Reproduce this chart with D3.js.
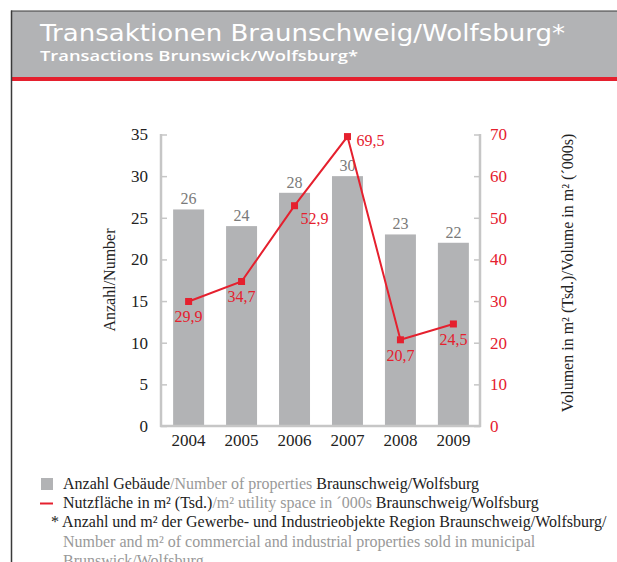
<!DOCTYPE html>
<html>
<head>
<meta charset="utf-8">
<script src="https://cdn.jsdelivr.net/npm/d3@7"></script>
<style>
  html, body { margin: 0; padding: 0; background: #fff; }
  svg { display: block; }
</style>
</head>
<body>
<div id="graph"></div>
<script>
// chart values
var years = ["2004", "2005", "2006", "2007", "2008", "2009"];
var anzahl = [26, 24, 28, 30, 23, 22];
var volumen = [29.9, 34.7, 52.9, 69.5, 20.7, 24.5];
var leftTicks = [0, 5, 10, 15, 20, 25, 30, 35];
var rightTicks = [0, 10, 20, 30, 40, 50, 60, 70];
// where the red value label sits relative to its point: [dx, dy, anchor]
var volLabelPos = [[0, 21, "middle"], [0, 21, "middle"], [6, 18, "start"],
                   [9, 9, "start"], [0, 21, "middle"], [0, 21, "middle"]];

var GREY = "#b2b3b5", RED = "#e5202e", AXIS = "#c6c6c6";
var SERIF = "'Liberation Serif', 'DejaVu Serif', serif";

function draw_function() {
    var vis = d3.select("#graph")
        .append("svg")
        .attr("width", 617).attr("height", 562);

    // frame + header
    vis.append("rect").attr("x", 12).attr("y", 11).attr("width", 620).attr("height", 66)
        .attr("fill", GREY);
    vis.append("rect").attr("x", 12).attr("y", 77).attr("width", 620).attr("height", 4)
        .attr("fill", RED);
    vis.append("line").attr("x1", 11.5).attr("x2", 11.5).attr("y1", 10.5).attr("y2", 562)
        .attr("stroke", "#3a3a3a").attr("stroke-width", 1.5);
    vis.append("line").attr("x1", 11).attr("x2", 617).attr("y1", 11).attr("y2", 11)
        .attr("stroke", "#3a3a3a").attr("stroke-width", 1);

    vis.append("text").attr("x", 40).attr("y", 41)
        .attr("fill", "#fff").attr("font-family", "'DejaVu Sans', sans-serif")
        .attr("font-size", 23).attr("textLength", 525).attr("lengthAdjust", "spacingAndGlyphs")
        .text("Transaktionen Braunschweig/Wolfsburg*");
    vis.append("text").attr("x", 40).attr("y", 61)
        .attr("fill", "#fff").attr("font-family", "'Open Sans', sans-serif")
        .attr("font-size", 14.5).attr("font-weight", 600)
        .attr("textLength", 318).attr("lengthAdjust", "spacingAndGlyphs")
        .text("Transactions Brunswick/Wolfsburg*");

    // scales
    var x = d3.scaleBand().domain(years).range([162, 480]).paddingInner(0.415).paddingOuter(0.21);
    var yL = d3.scaleLinear().domain([0, 35]).range([426, 134.5]);
    var yR = d3.scaleLinear().domain([0, 70]).range([426, 134.5]);

    // bars
    vis.selectAll("rect.bar")
        .data(anzahl)
        .enter()
        .append("rect")
        .attr("class", "bar")
        .attr("x", function(d, i) { return x(years[i]); })
        .attr("y", function(d) { return yL(d); })
        .attr("width", x.bandwidth())
        .attr("height", function(d) { return yL(0) - yL(d); })
        .attr("fill", GREY);

    vis.selectAll("text.barval")
        .data(anzahl)
        .enter()
        .append("text")
        .attr("x", function(d, i) { return x(years[i]) + x.bandwidth() / 2; })
        .attr("y", function(d) { return yL(d) - 5; })
        .attr("text-anchor", "middle")
        .attr("font-family", SERIF).attr("font-size", 16).attr("fill", "#7a7a7a")
        .text(function(d) { return d; });

    // axes
    var axL = vis.append("g").attr("transform", "translate(161,0)")
        .call(d3.axisLeft(yL).tickValues(leftTicks).tickSize(-6).tickPadding(13));
    var axR = vis.append("g").attr("transform", "translate(480,0)")
        .call(d3.axisRight(yR).tickValues(rightTicks).tickSize(-6).tickPadding(10));
    [axL, axR].forEach(function(ax) {
        ax.select(".domain").remove();
        ax.selectAll(".tick line").attr("stroke", AXIS).attr("stroke-width", 1.5);
        ax.selectAll("text").attr("font-family", SERIF).attr("font-size", 17);
    });
    axL.selectAll("text").attr("fill", "#222");
    axR.selectAll("text").attr("fill", RED);

    vis.append("line").attr("x1", 161).attr("x2", 161).attr("y1", 134).attr("y2", 427)
        .attr("stroke", AXIS).attr("stroke-width", 2.5);
    vis.append("line").attr("x1", 480).attr("x2", 480).attr("y1", 134).attr("y2", 427)
        .attr("stroke", AXIS).attr("stroke-width", 2.5);
    vis.append("line").attr("x1", 160).attr("x2", 481).attr("y1", 426).attr("y2", 426)
        .attr("stroke", AXIS).attr("stroke-width", 2.5);

    var axB = vis.append("g").attr("transform", "translate(0,427)")
        .call(d3.axisBottom(x).tickSize(0).tickPadding(7));
    axB.select(".domain").remove();
    axB.selectAll("text").attr("font-family", SERIF).attr("font-size", 17).attr("fill", "#222");

    // axis titles
    vis.append("text").attr("transform", "translate(115,280) rotate(-90)")
        .attr("text-anchor", "middle").attr("font-family", SERIF).attr("font-size", 16)
        .attr("fill", "#222").text("Anzahl/Number");
    vis.append("text").attr("transform", "translate(573,273) rotate(-90)")
        .attr("text-anchor", "middle").attr("font-family", SERIF).attr("font-size", 16)
        .attr("fill", "#222").text("Volumen in m² (Tsd.)/Volume in m² (´000s)");

    // line
    var cx = function(d, i) { return x(years[i]) + x.bandwidth() / 2; };
    var line = d3.line().x(cx).y(function(d) { return yR(d); });
    vis.append("path").datum(volumen).attr("d", line)
        .attr("fill", "none").attr("stroke", RED).attr("stroke-width", 2);
    vis.selectAll("rect.pt")
        .data(volumen)
        .enter()
        .append("rect")
        .attr("x", function(d, i) { return cx(d, i) - 3.5; })
        .attr("y", function(d) { return yR(d) - 3.5; })
        .attr("width", 7).attr("height", 7)
        .attr("fill", RED);
    vis.selectAll("text.volval")
        .data(volumen)
        .enter()
        .append("text")
        .attr("x", function(d, i) { return cx(d, i) + volLabelPos[i][0]; })
        .attr("y", function(d, i) { return yR(d) + volLabelPos[i][1]; })
        .attr("text-anchor", function(d, i) { return volLabelPos[i][2]; })
        .attr("font-family", SERIF).attr("font-size", 16).attr("fill", RED)
        .text(function(d) { return String(d).replace(".", ","); });

    // legend
    vis.append("rect").attr("x", 41).attr("y", 478).attr("width", 12).attr("height", 12)
        .attr("fill", GREY);
    vis.append("line").attr("x1", 40).attr("x2", 53).attr("y1", 503.5).attr("y2", 503.5)
        .attr("stroke", RED).attr("stroke-width", 2);

    var legend = [
        [63, 488.5, [["Anzahl Gebäude", "#222"], ["/Number of properties ", "#999"], ["Braunschweig/Wolfsburg", "#222"]]],
        [63, 508, [["Nutzfläche in m² (Tsd.)", "#222"], ["/m² utility space in ´000s ", "#999"], ["Braunschweig/Wolfsburg", "#222"]]],
        [51, 527, [["* Anzahl und m² der Gewerbe- und Industrieobjekte Region Braunschweig/Wolfsburg/", "#222"]]],
        [63, 546.5, [["Number and m² of commercial and industrial properties sold in municipal", "#999"]]],
        [63, 566, [["Brunswick/Wolfsburg", "#999"]]]
    ];
    legend.forEach(function(row) {
        var t = vis.append("text").attr("x", row[0]).attr("y", row[1])
            .attr("font-family", SERIF).attr("font-size", 16);
        row[2].forEach(function(part) {
            t.append("tspan").attr("fill", part[1]).text(part[0]);
        });
    });
}

window.onload = draw_function;
</script>
</body>
</html>
